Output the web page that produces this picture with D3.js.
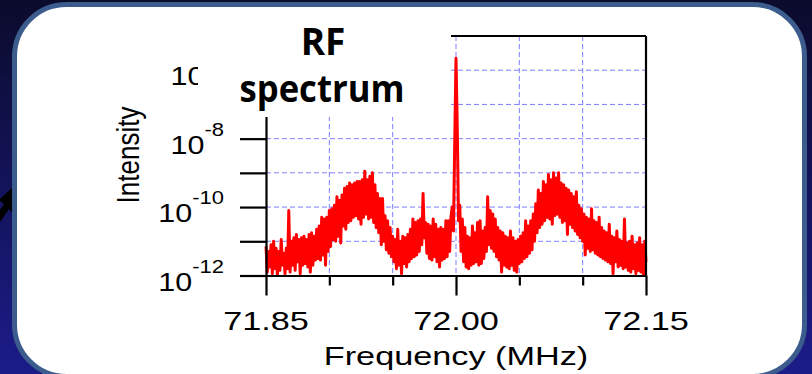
<!DOCTYPE html>
<html>
<head>
<meta charset="utf-8">
<script src="https://cdn.jsdelivr.net/npm/d3@7"></script>
<style>
  html, body { margin: 0; padding: 0; background: #10103a; }
  svg { display: block; }
</style>
</head>
<body>
<svg id="chart" width="812" height="374"></svg>
<script>
// ---------------- DATA ----------------
const titleLines = ["RF", "spectrum"];
const xAxisTitle = "Frequency (MHz)";
const yAxisTitle = "Intensity";
const freqStart = 71.85;     // MHz, first sample
const freqStep = 0.001;      // MHz, sample spacing
// log10(intensity), one value per sample
const logIntensity = [
  -11.15,-11.9,-11.3,-11.75,-11.1,-11.95,-11.0,-11.8,-11.2,-12.0,
  -11.3,-11.85,-10.95,-11.7,-11.35,-11.95,-11.2,-11.8,-10.1,-11.9,
  -11.0,-11.7,-10.9,-11.85,-10.8,-11.6,-10.95,-11.95,-10.9,-11.7,
  -10.85,-11.65,-10.95,-11.75,-10.8,-11.9,-10.75,-11.7,-10.85,-11.55,
  -10.65,-11.5,-10.55,-11.55,-10.3,-11.4,-10.35,-11.7,-10.3,-11.3,
  -10.1,-11.15,-10.05,-10.95,-9.95,-11.0,-9.7,-10.85,-9.8,-11.05,
  -9.65,-10.55,-9.45,-10.65,-9.4,-10.45,-9.3,-10.4,-9.35,-10.3,
  -9.3,-10.25,-9.25,-10.35,-9.25,-10.5,-9.2,-10.3,-8.95,-10.2,
  -9.2,-10.35,-9.1,-10.3,-9.0,-10.45,-9.35,-10.6,-9.6,-10.75,
  -9.75,-11.1,-9.75,-11.0,-10.25,-11.25,-10.4,-11.35,-10.6,-11.45,
  -10.85,-11.6,-10.95,-11.8,-10.65,-11.7,-11.0,-11.95,-10.85,-11.65,
  -10.9,-11.75,-10.8,-11.6,-10.65,-11.5,-10.35,-11.45,-10.45,-11.4,
  -10.4,-11.3,-10.35,-11.1,-9.6,-10.9,-10.45,-11.35,-10.5,-11.5,
  -10.55,-11.55,-10.35,-11.45,-10.5,-11.6,-10.65,-11.75,-10.6,-11.55,
  -10.65,-11.5,-10.4,-11.45,-10.4,-11.3,-10.3,-10.0,-10.7,-8.1,
  -5.65,-7.7,-10.4,-9.95,-11.3,-10.35,-11.6,-10.6,-11.75,-10.85,
  -11.8,-10.9,-11.7,-10.55,-11.65,-10.75,-11.6,-10.45,-11.7,-10.4,
  -11.65,-10.7,-11.5,-10.6,-11.3,-9.7,-11.1,-10.1,-11.2,-10.2,
  -11.3,-10.35,-11.45,-10.6,-11.55,-10.7,-11.9,-10.75,-11.7,-10.85,
  -11.75,-10.9,-11.8,-10.7,-11.7,-10.9,-11.85,-11.0,-11.9,-10.95,
  -11.65,-10.85,-11.6,-10.75,-11.5,-10.4,-11.45,-10.55,-11.35,-10.4,
  -11.25,-10.2,-11.0,-9.9,-10.75,-9.5,-10.6,-9.6,-10.5,-9.25,
  -10.4,-9.35,-10.3,-9.05,-10.35,-9.2,-10.5,-9.0,-10.25,-9.15,
  -10.2,-9.0,-10.3,-9.3,-10.45,-9.35,-10.4,-9.45,-10.8,-9.5,
  -10.5,-9.6,-10.6,-9.7,-10.7,-9.55,-10.8,-9.95,-10.9,-10.05,
  -11.0,-10.2,-11.4,-10.3,-11.2,-10.35,-11.3,-10.05,-11.25,-10.4,
  -11.35,-10.45,-11.4,-10.3,-11.45,-10.6,-11.5,-10.7,-11.55,-10.75,
  -11.6,-10.5,-11.65,-10.85,-11.95,-10.9,-11.6,-10.7,-11.75,-10.95,
  -11.7,-11.0,-11.8,-10.35,-11.75,-11.05,-11.85,-11.0,-11.9,-10.85,
  -11.8,-11.1,-11.95,-11.05,-11.85,-10.9,-11.9,-11.1,-12.0,-11.0,-11.6
];
const xDomain = [71.85, 72.15];
const xMajorTicks = [71.85, 72.00, 72.15];
const xMajorLabels = ["71.85", "72.00", "72.15"];
const xMinorTicks = [71.90, 71.95, 72.05, 72.10];
const xGridTicks = [71.90, 71.95, 72.00, 72.05, 72.10];
const yDomain = [1e-12, 1e-5];
const yTicks = [1e-12, 1e-11, 1e-10, 1e-9, 1e-8, 1e-7, 1e-6];
const yGridTicks = [1e-11, 1e-10, 1e-9, 1e-8, 1e-7, 1e-6];
const yLabelTicks = [1e-12, 1e-10, 1e-8, 1e-6];
const yLabelExponents = ["-12", "-10", "-8", "-6"];

// ---------------- DRAW ----------------
const svg = d3.select("#chart");
const W = 812, H = 374;
const defs = svg.append("defs");
const bg = defs.append("linearGradient").attr("id", "bg")
  .attr("x1", 0).attr("y1", 0).attr("x2", 0).attr("y2", 1);
bg.append("stop").attr("offset", "0%").attr("stop-color", "#0b0b2c");
bg.append("stop").attr("offset", "100%").attr("stop-color", "#1c1c8a");
svg.append("rect").attr("width", W).attr("height", H).attr("fill", "url(#bg)");

// black arrow fragment on the left edge
svg.append("path")
  .attr("d", "M14,186 L15,216 L9,209 L0,222 L0,210 L4,204 L-1,200 Z")
  .attr("fill", "#000");

// white panel
svg.append("rect")
  .attr("x", 14.5).attr("y", 4.5).attr("width", 790).attr("height", 372)
  .attr("rx", 52).attr("ry", 52)
  .attr("fill", "#ffffff").attr("stroke", "#3b5c8c").attr("stroke-width", 5);

const x = d3.scaleLinear().domain(xDomain).range([266, 646]);
const y = d3.scaleLog().domain(yDomain).range([275.5, 36]);
const x0 = x.range()[0], x1 = x.range()[1];
const yTop = y.range()[1], yBot = y.range()[0];

// grid
const grid = svg.append("g").attr("stroke", "#7f7fff").attr("stroke-width", 1)
  .attr("stroke-dasharray", "5,3").attr("fill", "none");
grid.selectAll("line.h").data(yGridTicks).join("line").attr("class", "h")
  .attr("x1", x0).attr("x2", x1).attr("y1", d => y(d)).attr("y2", d => y(d));
grid.selectAll("line.v").data(xGridTicks).join("line").attr("class", "v")
  .attr("x1", d => x(d)).attr("x2", d => x(d)).attr("y1", yTop).attr("y2", yBot);

// spectrum trace
const series = logIntensity.map((v, i) => ({ f: freqStart + i * freqStep, v: Math.pow(10, v) }));
svg.append("path").datum(series)
  .attr("fill", "none").attr("stroke", "#ff0000").attr("stroke-width", 3)
  .attr("stroke-linejoin", "round")
  .attr("d", d3.line().x(d => x(d.f)).y(d => y(d.v)));

// axes
const axisStyle = g => {
  g.select(".domain").attr("stroke", "#000").attr("stroke-width", 2.2);
  g.selectAll(".tick line").attr("stroke", "#000").attr("stroke-width", 2.2);
  g.selectAll(".tick text").remove();
};
svg.append("g").attr("transform", `translate(${x0},0)`)
  .call(d3.axisLeft(y).tickValues(yTicks).tickSize(26).tickSizeOuter(0).tickFormat(""))
  .call(axisStyle);
svg.append("g").attr("transform", `translate(0,${yBot})`)
  .call(d3.axisBottom(x).tickValues(xMajorTicks).tickSize(20).tickSizeOuter(0).tickFormat(""))
  .call(axisStyle);
svg.append("g").attr("transform", `translate(0,${yBot})`)
  .call(d3.axisBottom(x).tickValues(xMinorTicks).tickSize(10).tickSizeOuter(0).tickFormat(""))
  .call(g => { g.select(".domain").remove(); })
  .call(axisStyle);
// frame top/right
svg.append("line").attr("x1", x0).attr("x2", x1).attr("y1", yTop).attr("y2", yTop)
  .attr("stroke", "#000").attr("stroke-width", 2.2);
svg.append("line").attr("x1", x1).attr("x2", x1).attr("y1", yTop).attr("y2", yBot)
  .attr("stroke", "#000").attr("stroke-width", 2.2);

const font = "'Liberation Sans', Arial, sans-serif";
// y tick labels
yLabelTicks.forEach((t, i) => {
  const g = svg.append("g").attr("transform", `translate(224,${y(t)}) scale(1.22,1)`);
  const txt = g.append("text").attr("text-anchor", "end").attr("y", 15)
    .attr("font-family", font).attr("fill", "#000");
  txt.append("tspan").attr("font-size", 25).text("10");
  txt.append("tspan").attr("font-size", 18).attr("dy", -18).text(yLabelExponents[i]);
});
// x tick labels
xMajorTicks.forEach((t, i) => {
  svg.append("g").attr("transform", `translate(${x(t)},330) scale(1.37,1)`)
    .append("text").attr("text-anchor", "middle").attr("font-family", font)
    .attr("font-size", 25).attr("fill", "#000").text(xMajorLabels[i]);
});
// axis titles
svg.append("g").attr("transform", `translate(${(x0 + x1) / 2},365) scale(1.37,1)`)
  .append("text").attr("text-anchor", "middle").attr("font-family", font)
  .attr("font-size", 25).attr("fill", "#000").text(xAxisTitle);
svg.append("g").attr("transform", `translate(139,155) scale(1.2,1) rotate(-90)`)
  .append("text").attr("text-anchor", "middle").attr("font-family", font)
  .attr("font-size", 26).attr("fill", "#000").text(yAxisTitle);

// title text box (white, covers the upper left of the plot)
svg.append("rect").attr("x", 198).attr("y", 10).attr("width", 253).attr("height", 107)
  .attr("fill", "#ffffff");
const tfont = "'Open Sans', 'Noto Sans', sans-serif";
svg.append("text").attr("x", 323).attr("y", 55).attr("text-anchor", "middle")
  .attr("font-family", tfont).attr("font-weight", "bold").attr("font-size", 37)
  .attr("fill", "#000").text(titleLines[0]);
svg.append("text").attr("x", 322).attr("y", 102).attr("text-anchor", "middle")
  .attr("font-family", tfont).attr("font-weight", "bold").attr("font-size", 37)
  .attr("textLength", 165).attr("lengthAdjust", "spacingAndGlyphs")
  .attr("fill", "#000").text(titleLines[1]);
</script>
</body>
</html>
